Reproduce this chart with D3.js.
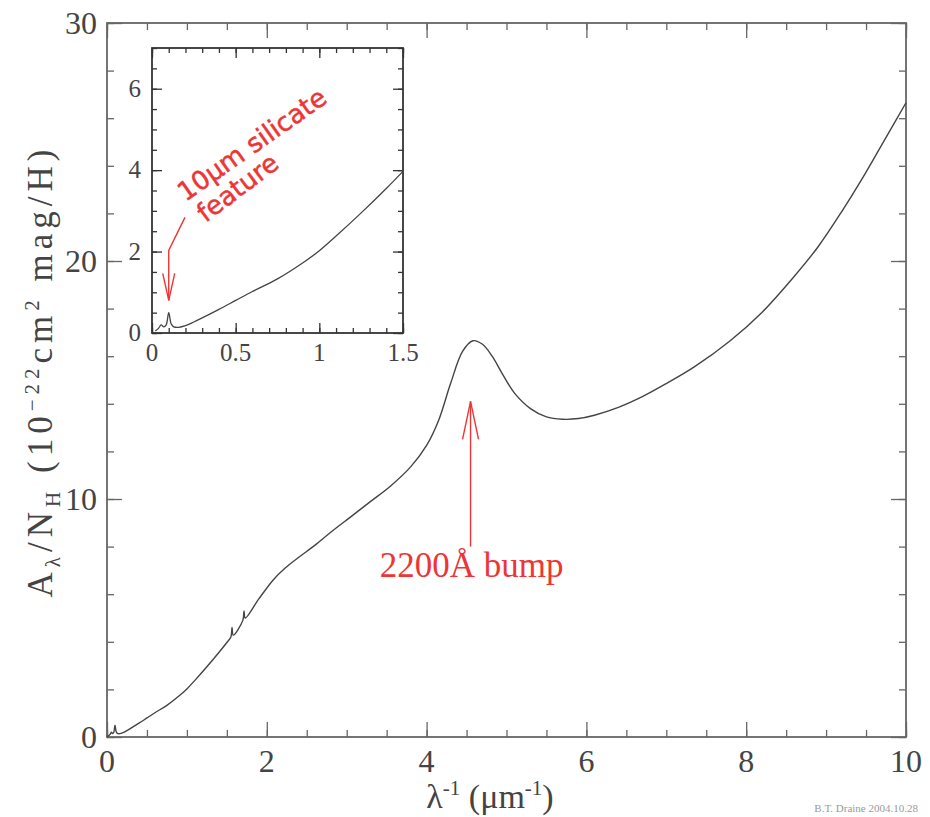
<!DOCTYPE html>
<html>
<head>
<meta charset="utf-8">
<script src="https://cdn.jsdelivr.net/npm/d3@7"></script>
<style>
  body { margin: 0; background: #fff; }
  text { font-family: "Liberation Serif", "DejaVu Serif", serif; fill: #444; }
  .note { font-family: "DejaVu Sans", sans-serif; fill: #ee3535; stroke: #ee3535; stroke-width: 0.5; }
</style>
</head>
<body>
<svg id="chart" width="930" height="817"></svg>
<script>
// extinction per H nucleon
const invLambda = [0.02, 0.04, 0.055, 0.07, 0.085, 0.1, 0.115, 0.13, 0.16, 0.2, 0.25, 0.3, 0.4, 0.5,
  0.6, 0.75, 0.9, 1.0, 1.1, 1.25, 1.4, 1.5, 1.55, 1.565, 1.58, 1.7, 1.715, 1.73, 1.9, 2.08, 2.23,
  2.4, 2.6, 2.8, 3.05, 3.3, 3.55, 3.8, 4.0, 4.15, 4.3, 4.45, 4.58, 4.7, 4.82, 4.95, 5.1, 5.3, 5.5,
  5.7, 5.9, 6.1, 6.4, 6.7, 7.0, 7.35, 7.8, 8.2, 8.6, 8.9, 9.2, 9.45, 9.7, 10.0];
const extinction = [0.05, 0.12, 0.2, 0.15, 0.2, 0.5, 0.22, 0.15, 0.14, 0.18, 0.27, 0.37, 0.58, 0.8,
  1.02, 1.33, 1.72, 2.02, 2.38, 2.95, 3.55, 3.97, 4.2, 4.6, 4.28, 4.9, 5.3, 5.0, 5.8, 6.6, 7.1,
  7.55, 8.05, 8.6, 9.25, 9.9, 10.55, 11.35, 12.25, 13.3, 14.85, 16.2, 16.65, 16.5, 16.0, 15.25, 14.45, 13.8, 13.45,
  13.35, 13.38, 13.52, 13.85, 14.3, 14.85, 15.55, 16.65, 17.85, 19.35, 20.6, 22.1, 23.45, 24.9, 26.65];

const mainXTicks = [0, 2, 4, 6, 8, 10];
const mainYTicks = [0, 10, 20, 30];
const insetXTicks = [0, 0.5, 1, 1.5];
const insetYTicks = [0, 2, 4, 6];

const points = invLambda.map((v, i) => ({ x: v, y: extinction[i] }));

const svg = d3.select("#chart");

// main panel
const x = d3.scaleLinear().domain([0, 10]).range([107, 906]);
const y = d3.scaleLinear().domain([0, 30]).range([737, 23]);

// inset panel
const xi = d3.scaleLinear().domain([0, 1.5]).range([152, 403]);
const yi = d3.scaleLinear().domain([0, 7]).range([333, 48]);

// inward ticks on all four sides
function frameTicks(sx, sy, xMajor, xMinor, yMajor, yMinor, big, small, color) {
  const g = svg.append("g");
  const [x0, x1] = sx.range(), [y0, y1] = sy.range();
  const add = (axis, tr) => {
    const a = g.append("g").attr("transform", tr).call(axis);
    a.select(".domain").remove();
    a.selectAll("line").attr("stroke", color).attr("stroke-width", 1.3);
  };
  add(d3.axisBottom(sx).tickValues(xMinor).tickSize(-small).tickFormat(""), `translate(0,${y0})`);
  add(d3.axisBottom(sx).tickValues(xMajor).tickSize(-big).tickFormat(""), `translate(0,${y0})`);
  add(d3.axisTop(sx).tickValues(xMinor).tickSize(-small).tickFormat(""), `translate(0,${y1})`);
  add(d3.axisTop(sx).tickValues(xMajor).tickSize(-big).tickFormat(""), `translate(0,${y1})`);
  add(d3.axisLeft(sy).tickValues(yMinor).tickSize(-small).tickFormat(""), `translate(${x0},0)`);
  add(d3.axisLeft(sy).tickValues(yMajor).tickSize(-big).tickFormat(""), `translate(${x0},0)`);
  add(d3.axisRight(sy).tickValues(yMinor).tickSize(-small).tickFormat(""), `translate(${x1},0)`);
  add(d3.axisRight(sy).tickValues(yMajor).tickSize(-big).tickFormat(""), `translate(${x1},0)`);
  g.append("rect")
    .attr("x", x0).attr("y", y1).attr("width", x1 - x0).attr("height", y0 - y1)
    .attr("fill", "none").attr("stroke", color).attr("stroke-width", 1.8);
  return g;
}

frameTicks(x, y, mainXTicks, d3.range(0, 10.01, 0.5), mainYTicks, d3.range(0, 30.01, 2), 15, 7, "#666");

const line = d3.line().x(d => x(d.x)).y(d => y(d.y)).curve(d3.curveCatmullRom.alpha(0.5));
svg.append("path").datum([{ x: 0, y: 0 }, ...points])
  .attr("d", line).attr("fill", "none").attr("stroke", "#444").attr("stroke-width", 1.4);

// main tick labels
svg.append("g").selectAll("text").data(mainXTicks).join("text")
  .attr("x", d => x(d)).attr("y", 772).attr("text-anchor", "middle")
  .attr("font-size", 32).text(d => d);
svg.append("g").selectAll("text").data(mainYTicks).join("text")
  .attr("x", 97).attr("y", d => y(d) + 11).attr("text-anchor", "end")
  .attr("font-size", 32).text(d => d);

// axis titles
const xt = svg.append("text").attr("x", 490).attr("y", 808).attr("text-anchor", "middle").attr("font-size", 34);
xt.append("tspan").text("λ");
xt.append("tspan").attr("dy", -13).attr("font-size", 21).text("-1");
xt.append("tspan").attr("dy", 13).text(" (μm");
xt.append("tspan").attr("dy", -13).attr("font-size", 21).text("-1");
xt.append("tspan").attr("dy", 13).text(")");

const yt = svg.append("text").attr("transform", "translate(52,371) rotate(-90)")
  .attr("text-anchor", "middle").attr("font-size", 35).attr("letter-spacing", 5);
yt.append("tspan").text("A");
yt.append("tspan").attr("dy", 8).attr("font-size", 21).text("λ");
yt.append("tspan").attr("dy", -8).text("/N");
yt.append("tspan").attr("dy", 8).attr("font-size", 21).text("H");
yt.append("tspan").attr("dy", -8).text(" (10");
yt.append("tspan").attr("dy", -13).attr("font-size", 21).text("−22");
yt.append("tspan").attr("dy", 13).text("cm");
yt.append("tspan").attr("dy", -13).attr("font-size", 21).text("2");
yt.append("tspan").attr("dy", 13).text(" mag/H)");

// credit
svg.append("text").attr("x", 918).attr("y", 812).attr("text-anchor", "end")
  .attr("font-family", "Liberation Sans, sans-serif").attr("font-size", 11)
  .style("fill", "#9a9a9a").text("B.T. Draine 2004.10.28");

// 2200 Å bump note
const bumpX = 4.55;
const red = "#ee3535";
svg.append("line").attr("x1", x(bumpX)).attr("x2", x(bumpX)).attr("y1", y(8.0)).attr("y2", y(14.1))
  .attr("stroke", red).attr("stroke-width", 1.4);
svg.append("path")
  .attr("d", `M${x(bumpX) - 8},${y(14.1) + 38}L${x(bumpX)},${y(14.1)}L${x(bumpX) + 8},${y(14.1) + 38}`)
  .attr("fill", "none").attr("stroke", red).attr("stroke-width", 1.4);
svg.append("text").attr("x", x(bumpX) + 1).attr("y", 577).attr("text-anchor", "middle")
  .attr("font-size", 35).style("fill", red).text("2200Å bump");

// inset
svg.append("rect").attr("x", 152).attr("y", 48).attr("width", 251).attr("height", 285).attr("fill", "#fff");
frameTicks(xi, yi, insetXTicks, d3.range(0, 1.501, 0.1), insetYTicks, d3.range(0, 7.01, 0.5), 10, 5, "#333");

const lineI = d3.line().x(d => xi(d.x)).y(d => yi(d.y)).curve(d3.curveCatmullRom.alpha(0.5));
svg.append("path").datum(points.filter(d => d.x <= 1.5))
  .attr("d", lineI).attr("fill", "none").attr("stroke", "#444").attr("stroke-width", 1.3);

svg.append("g").selectAll("text").data(insetXTicks).join("text")
  .attr("x", d => xi(d)).attr("y", 361).attr("text-anchor", "middle")
  .attr("font-size", 25).text(d => d);
svg.append("g").selectAll("text").data(insetYTicks).join("text")
  .attr("x", 141).attr("y", d => yi(d) + 8).attr("text-anchor", "end")
  .attr("font-size", 25).text(d => d);

// 10 micron silicate note
svg.append("path")
  .attr("d", `M${xi(0.197)},${yi(2.84)}L${xi(0.1)},${yi(2.03)}L${xi(0.1)},${yi(0.8)}`)
  .attr("fill", "none").attr("stroke", red).attr("stroke-width", 1.4);
svg.append("path")
  .attr("d", `M${xi(0.1) - 6},${yi(0.8) - 27}L${xi(0.1)},${yi(0.8)}L${xi(0.1) + 6},${yi(0.8) - 27}`)
  .attr("fill", "none").attr("stroke", red).attr("stroke-width", 1.4);
svg.append("text").attr("class", "note").attr("font-size", 26)
  .attr("transform", `translate(${xi(0.2)},${yi(3.22)}) rotate(-35)`).text("10μm silicate");
svg.append("text").attr("class", "note").attr("font-size", 26)
  .attr("transform", `translate(${xi(0.32)},${yi(2.7)}) rotate(-37)`).text("feature");
</script>
</body>
</html>
